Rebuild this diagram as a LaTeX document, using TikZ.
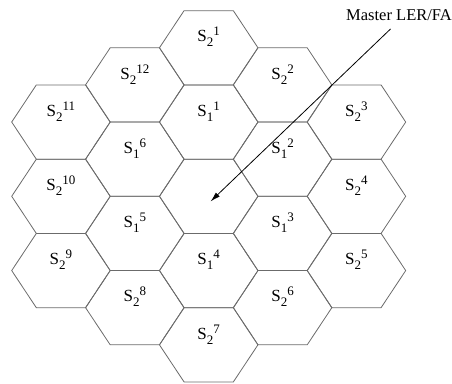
\documentclass[tikz,border=0pt]{standalone}
\usepackage{fontspec}
\setmainfont{Liberation Serif}
\usetikzlibrary{arrows.meta}
\newcommand\cellsym[2]{S\raisebox{-5pt}{\fontsize{13}{13}\selectfont #1}\raisebox{6pt}{\fontsize{13}{13}\selectfont #2}}
\begin{document}
\begin{tikzpicture}[x=1pt,y=-1pt,
  hexedge/.style={draw=black!58, line width=0.8pt, line join=miter},
  cellname/.style={font=\fontsize{17}{17}\selectfont, inner sep=0pt, anchor=base},
  pointer/.style={draw=black, line width=0.8pt, -{Latex[length=10pt,width=5.5pt]}},
  caption/.style={font=\fontsize{16.5}{16.5}\selectfont, inner sep=0pt, anchor=base east}]
\useasboundingbox (0,0) rectangle (452,383);
% hexagon cells: name / column / half-row
\foreach \nm/\ci/\cj in {
  c/0/0,
  s11/0/-2, s12/1/-1, s13/1/1, s14/0/2, s15/-1/1, s16/-1/-1,
  s21/0/-4, s22/1/-3, s23/2/-2, s24/2/0, s25/2/2, s26/1/3,
  s27/0/4, s28/-1/3, s29/-2/2, s210/-2/0, s211/-2/-2, s212/-1/-3}{
  \coordinate (h-\nm) at ({208.7+\ci*73.875},{196.3+\cj*37.13});
  \draw[hexedge] (h-\nm) ++(-49.25,0) -- ++(24.625,-37.13) -- ++(49.25,0)
     -- ++(24.625,37.13) -- ++(-24.625,37.13) -- ++(-49.25,0) -- cycle;
}
\foreach \nm/\lo/\hi in {
  s11/1/1, s12/1/2, s13/1/3, s14/1/4, s15/1/5, s16/1/6,
  s21/2/1, s22/2/2, s23/2/3, s24/2/4, s25/2/5, s26/2/6,
  s27/2/7, s28/2/8, s29/2/9, s210/2/10, s211/2/11, s212/2/12}{
  \node[cellname] (l-\nm) at ([yshift=5.8pt]h-\nm) {\cellsym{\lo}{\hi}};
}
\node[caption] (master) at (452,20) {Master LER/FA};
\coordinate (tail) at (390.5,29);
\coordinate (tip) at (210.5,201.5);
\draw[pointer] (tail) -- (tip);
\end{tikzpicture}
\end{document}
